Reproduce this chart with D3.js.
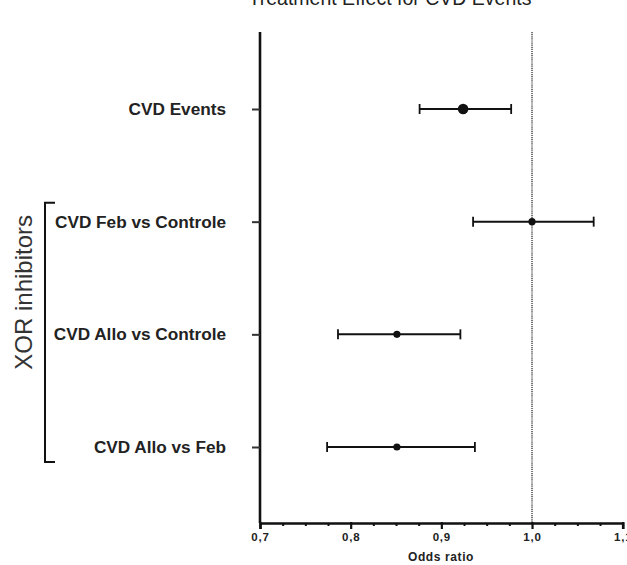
<!DOCTYPE html>
<html>
<head>
<meta charset="utf-8">
<script src="https://cdn.jsdelivr.net/npm/d3@7"></script>
<style>
  html, body { margin: 0; padding: 0; background: #fff; }
  svg { display: block; }
  text { font-family: "Liberation Sans", Arial, Helvetica, sans-serif; }
</style>
</head>
<body>
<svg id="chart" width="627" height="565"></svg>
<script>
// ---- data ----
const categories = ["CVD Events", "CVD Feb vs Controle", "CVD Allo vs Controle", "CVD Allo vs Feb"];
const oddsRatio  = [0.924, 1.000, 0.851, 0.851];
const lowerCI    = [0.876, 0.935, 0.786, 0.774];
const upperCI    = [0.977, 1.068, 0.921, 0.937];
const xTicks     = [0.7, 0.8, 0.9, 1.0, 1.1];
const xTickLabels = ["0,7", "0,8", "0,9", "1,0", "1,1"];
const title = "Treatment Effect for CVD Events";
const xTitle = "Odds ratio";
const groupLabel = "XOR inhibitors";

const svg = d3.select("#chart");

const x = d3.scaleLinear().domain([0.7, 1.1]).range([260, 622.7]);
const y = d3.scalePoint().domain(categories).range([109, 447]);

const axisY = 523, axisTop = 32;

// title
svg.append("text")
  .attr("x", 390).attr("y", 5)
  .attr("text-anchor", "middle")
  .attr("font-size", 19.5)
  .attr("fill", "#222")
  .text(title);

// reference line at OR = 1
svg.append("line")
  .attr("x1", x(1)).attr("x2", x(1))
  .attr("y1", axisTop).attr("y2", axisY)
  .attr("stroke", "#555").attr("stroke-width", 1.6)
  .attr("stroke-dasharray", "1.2,0.9");

// x axis: major ticks
const xAxis = d3.axisBottom(x)
  .tickValues(xTicks)
  .tickSize(6)
  .tickPadding(4)
  .tickFormat((d, i) => xTickLabels[i]);
const gx = svg.append("g").attr("transform", `translate(0,${axisY})`).call(xAxis);
gx.select(".domain").attr("stroke", "#111").attr("stroke-width", 2.6);
gx.selectAll(".tick line").attr("stroke", "#111").attr("stroke-width", 2.2).attr("y1", -1);
gx.selectAll(".tick text")
  .attr("font-family", "Liberation Sans, Arial, sans-serif")
  .attr("font-size", 11.5).attr("font-weight", "bold")
  .attr("letter-spacing", 0.8)
  .attr("fill", "#222");

// minor ticks
const minor = d3.range(0.725, 1.1, 0.025).filter(v => Math.abs(Math.round(v * 10) - v * 10) > 0.01);
const xMinor = d3.axisBottom(x).tickValues(minor).tickSize(3).tickFormat("");
const gm = svg.append("g").attr("transform", `translate(0,${axisY})`).call(xMinor);
gm.select(".domain").remove();
gm.selectAll(".tick line").attr("stroke", "#111").attr("stroke-width", 2);

// x title
svg.append("text")
  .attr("x", 441).attr("y", 561)
  .attr("text-anchor", "middle")
  .attr("font-size", 12).attr("font-weight", "bold")
  .attr("letter-spacing", 0.6)
  .attr("fill", "#222")
  .text(xTitle);

// y axis
const yAxis = d3.axisLeft(y).tickSize(8).tickPadding(26);
const gy = svg.append("g").attr("transform", `translate(${x(0.7)},0)`).call(yAxis);
gy.select(".domain").attr("d", `M0,${axisTop}V${axisY}`).attr("stroke", "#111").attr("stroke-width", 2.6);
gy.selectAll(".tick line").attr("stroke", "#333").attr("stroke-width", 2);
gy.selectAll(".tick text")
  .attr("font-family", "Liberation Sans, Arial, sans-serif")
  .attr("font-size", 17.2).attr("font-weight", "bold")
  .attr("fill", "#222");

// error bars
const rows = categories.map((c, i) => ({ c, or: oddsRatio[i], lo: lowerCI[i], hi: upperCI[i], i }));
const g = svg.append("g");
g.selectAll(".ci").data(rows).join("line")
  .attr("x1", d => x(d.lo)).attr("x2", d => x(d.hi))
  .attr("y1", d => y(d.c)).attr("y2", d => y(d.c))
  .attr("stroke", "#111").attr("stroke-width", 2);
g.selectAll(".capL").data(rows).join("line")
  .attr("x1", d => x(d.lo)).attr("x2", d => x(d.lo))
  .attr("y1", d => y(d.c) - 5).attr("y2", d => y(d.c) + 5)
  .attr("stroke", "#111").attr("stroke-width", 1.8);
g.selectAll(".capR").data(rows).join("line")
  .attr("x1", d => x(d.hi)).attr("x2", d => x(d.hi))
  .attr("y1", d => y(d.c) - 5).attr("y2", d => y(d.c) + 5)
  .attr("stroke", "#111").attr("stroke-width", 1.8);
g.selectAll(".pt").data(rows).join("circle")
  .attr("cx", d => x(d.or)).attr("cy", d => y(d.c))
  .attr("r", d => d.i === 0 ? 5.3 : 3.6)
  .attr("fill", "#111");

// group bracket
const bTop = y(categories[1]) - 19, bBot = y(categories[3]) + 15;
svg.append("path")
  .attr("d", `M55,${bTop}H45V${bBot}H55`)
  .attr("fill", "none").attr("stroke", "#111").attr("stroke-width", 2);
svg.append("text")
  .attr("transform", `translate(32,${(bTop + bBot) / 2 - 40}) rotate(-90)`)
  .attr("text-anchor", "middle")
  .attr("font-size", 24)
  .attr("fill", "#333")
  .text(groupLabel);
</script>
</body>
</html>
